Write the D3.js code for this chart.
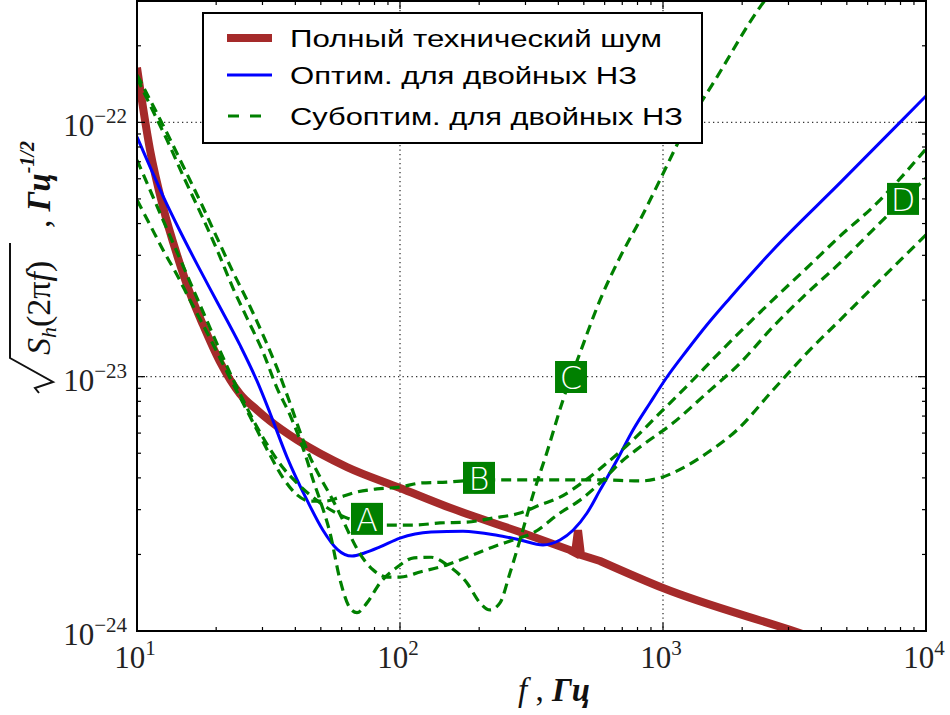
<!DOCTYPE html>
<html><head><meta charset="utf-8">
<script src="https://cdn.jsdelivr.net/npm/d3@7"></script>
<style>body{margin:0;background:#fff}</style>
</head><body><svg id="chart" width="950" height="715"></svg>
<script>
// ---- data ----
const techFreq = [10, 11.21, 12.56, 14.20, 15.90, 17.82, 20.69, 24.64, 28.59, 32.04, 40.59, 62.88, 100, 154.9, 285.9, 443.1, 462.9, 475.2, 487.8, 576.1, 1000, 3041, 10000];
const techVal  = [1.64e-22, 7.79e-23, 4.65e-23, 3.01e-23, 2.13e-23, 1.60e-23, 1.142e-23, 8.55e-24, 7.40e-24, 6.70e-24, 5.64e-24, 4.41e-24, 3.65e-24, 3.05e-24, 2.45e-24, 2.08e-24, 2.03e-24, 2.49e-24, 1.99e-24, 1.885e-24, 1.476e-24, 1.01e-24, 6.71e-25];

const optFreq = [10, 11.21, 12.56, 14.57, 16.91, 20.15, 24.64, 28.59, 32.04, 37.18, 44.30, 50.95, 57.61, 65.70, 73.6, 83.93, 100, 131.2, 173.6, 233.7, 285.9, 349.8, 405.9, 454.9, 514.2, 576.1, 668.5, 769.1, 892.6, 1035.6, 1233.9, 1470.2, 1797.6, 2619.9, 4709.8, 7962, 10000];
const optVal  = [8.76e-23, 6.68e-23, 5.13e-23, 3.74e-23, 2.77e-23, 1.97e-23, 1.33e-23, 9.62e-24, 7.20e-24, 4.83e-24, 3.27e-24, 2.49e-24, 2.10e-24, 1.97e-24, 2.03e-24, 2.14e-24, 2.32e-24, 2.45e-24, 2.47e-24, 2.38e-24, 2.28e-24, 2.18e-24, 2.28e-24, 2.49e-24, 2.91e-24, 3.58e-24, 4.70e-24, 6.17e-24, 7.88e-24, 9.97e-24, 1.27e-23, 1.60e-23, 2.04e-23, 3.15e-23, 5.78e-23, 1.0e-22, 1.27e-22];

const subAFreq = [10, 11.21, 12.56, 14.20, 15.90, 17.82, 20.15, 22.58, 25.30, 28.59, 32.04, 35.91, 40.59, 45.48, 50.95, 59.14, 70.45, 86.17, 113.0, 141.9, 179.8, 225.7, 285.9, 340.7, 405.9, 496.5, 612.4, 769.1, 974.1, 1266.8, 1647.4, 2142.4, 2785.5, 3622.5, 4709.8, 6287, 10000];
const subAVal  = [7.11e-23, 5.42e-23, 4.13e-23, 3.09e-23, 2.36e-23, 1.80e-23, 1.345e-23, 1.034e-23, 8.10e-24, 6.34e-24, 5.19e-24, 4.38e-24, 3.82e-24, 3.43e-24, 3.13e-24, 2.86e-24, 2.68e-24, 2.61e-24, 2.61e-24, 2.66e-24, 2.68e-24, 2.78e-24, 2.91e-24, 3.13e-24, 3.36e-24, 3.85e-24, 4.58e-24, 5.64e-24, 7.20e-24, 9.45e-24, 1.25e-23, 1.64e-23, 2.13e-23, 2.75e-23, 3.57e-23, 4.65e-23, 7.86e-23];

const subBFreq = [10, 11.21, 12.56, 14.20, 15.90, 17.82, 20.15, 22.58, 25.30, 28.59, 32.04, 35.91, 40.59, 45.48, 51.87, 59.14, 68.62, 81.75, 100, 120.2, 150.9, 201.5, 285.9, 405.9, 576.1, 817.8, 974.1, 1191.5, 1470.2, 1911.1, 2619.9, 3528.6, 4709.8, 6287, 10000];
const subBVal  = [4.95e-23, 3.95e-23, 3.15e-23, 2.51e-23, 2.00e-23, 1.60e-23, 1.25e-23, 9.88e-24, 7.88e-24, 6.17e-24, 4.92e-24, 4.00e-24, 3.43e-24, 3.24e-24, 3.24e-24, 3.36e-24, 3.52e-24, 3.62e-24, 3.68e-24, 3.82e-24, 3.85e-24, 3.93e-24, 3.93e-24, 3.93e-24, 3.93e-24, 3.89e-24, 4.00e-24, 4.38e-24, 5.01e-24, 6.17e-24, 8.86e-24, 1.24e-23, 1.67e-23, 2.25e-23, 3.61e-23];

const subCFreq = [10, 11.21, 13.0, 15.22, 17.66, 20.32, 23.17, 26.20, 30.13, 34.07, 38.16, 41.68, 44.30, 46.69, 49.65, 54.19, 59.14, 64.55, 68.62, 74.89, 83.93, 97.41, 113.0, 131.2, 150.9, 179.8, 201.5, 219.9, 240.0, 261.9, 285.9, 320.4, 362.3, 416.7, 483.6, 576.1, 686.3, 817.8, 974.1, 1191.5, 1604.7, 2338.1, 3318];
const subCVal  = [1.495e-22, 1.17e-22, 8.53e-23, 5.94e-23, 4.28e-23, 3.09e-23, 2.23e-23, 1.70e-23, 1.25e-23, 9.02e-24, 7.07e-24, 5.64e-24, 4.70e-24, 3.93e-24, 3.27e-24, 2.43e-24, 1.59e-24, 1.23e-24, 1.18e-24, 1.29e-24, 1.545e-24, 1.78e-24, 1.94e-24, 1.95e-24, 1.82e-24, 1.545e-24, 1.29e-24, 1.21e-24, 1.29e-24, 1.69e-24, 2.28e-24, 3.43e-24, 5.06e-24, 8.10e-24, 1.24e-23, 2.00e-23, 2.95e-23, 4.13e-23, 5.94e-23, 9.08e-23, 1.508e-22, 2.84e-22, 4.35e-22];

const subDFreq = [10, 11.21, 13.0, 15.22, 17.66, 20.32, 23.17, 26.20, 30.13, 34.07, 38.16, 42.78, 45.48, 49.65, 54.19, 59.14, 64.55, 70.45, 78.93, 89.25, 100, 120.2, 150.9, 179.8, 225.7, 269.0, 320.4, 405.9, 483.6, 576.1, 686.3, 817.8, 1091.5, 1470.2, 1962.8, 2619.9, 3528.6, 4709.8, 6287, 10000];
const subDVal  = [1.536e-22, 1.225e-22, 9.08e-23, 6.50e-23, 4.73e-23, 3.45e-23, 2.58e-23, 2.00e-23, 1.459e-23, 1.082e-23, 7.88e-24, 5.64e-24, 4.83e-24, 4.03e-24, 3.43e-24, 2.88e-24, 2.38e-24, 2.01e-24, 1.74e-24, 1.63e-24, 1.63e-24, 1.71e-24, 1.82e-24, 1.95e-24, 2.14e-24, 2.28e-24, 2.43e-24, 2.91e-24, 3.27e-24, 3.82e-24, 4.58e-24, 5.29e-24, 6.57e-24, 8.63e-24, 1.13e-23, 1.57e-23, 2.13e-23, 2.80e-23, 3.78e-23, 6.04e-23];

const tagNames = ["A", "B", "C", "D"];
const tagFreq  = [74.9, 199.7, 447, 8177];
const tagVal   = [2.76e-24, 4.00e-24, 9.97e-24, 5.00e-23];

const legendNames = ["Полный технический шум", "Оптим. для двойных НЗ", "Субоптим. для двойных НЗ"];
const xTickVals = [10, 100, 1000, 10000];
const xTickExp  = ["1", "2", "3", "4"];
const yTickVals = [1e-24, 1e-23, 1e-22];
const yTickExp  = ["\u221224", "\u221223", "\u221222"];

// ---- layout ----
const L = 137, R = 926, T = 1, B = 631;
const svg = d3.select("#chart");
svg.append("rect").attr("width", 950).attr("height", 715).attr("fill", "#fff");

const x = d3.scaleLog().domain([10, 1e4]).range([L, R]);
const y = d3.scaleLog().domain([1e-24, 3e-22]).range([B, T]);

svg.append("clipPath").attr("id", "clip").append("rect")
  .attr("x", L).attr("y", T).attr("width", R - L).attr("height", B - T);

const RED = "#a52a2a", BLUE = "#0000ff", GREEN = "#008000";

// grid
const grid = svg.append("g").attr("stroke", "#333").attr("stroke-width", 1.3).attr("stroke-dasharray", "1.3,3.2");
[100, 1000].forEach(v => grid.append("line").attr("x1", x(v)).attr("x2", x(v)).attr("y1", T).attr("y2", B));
[1e-23, 1e-22].forEach(v => grid.append("line").attr("x1", L).attr("x2", R).attr("y1", y(v)).attr("y2", y(v)));

const line = d3.line().x(d => x(d[0])).y(d => y(d[1])).curve(d3.curveMonotoneX);
const lineLin = d3.line().x(d => x(d[0])).y(d => y(d[1]));
const zip = (a, b) => a.map((v, i) => [v, b[i]]);
const plot = svg.append("g").attr("clip-path", "url(#clip)");

// technical noise: smooth everywhere except the narrow spike, which is drawn with straight segments
const techPts = zip(techFreq, techVal);
const s0 = techFreq.indexOf(443.1), s1 = techFreq.indexOf(576.1);
const techD = line(techPts.slice(0, s0 + 1)) +
  lineLin(techPts.slice(s0, s1 + 1)).replace(/^M/, "L") +
  line(techPts.slice(s1)).replace(/^M/, "L");
plot.append("path").attr("d", techD).attr("fill", "none")
  .attr("stroke", RED).attr("stroke-width", 8).attr("stroke-linejoin", "miter").attr("stroke-miterlimit", 4);
plot.append("path").attr("d", line(zip(optFreq, optVal))).attr("fill", "none")
  .attr("stroke", BLUE).attr("stroke-width", 3);
[[subAFreq, subAVal], [subBFreq, subBVal], [subCFreq, subCVal], [subDFreq, subDVal]].forEach(([f, v]) => {
  plot.append("path").attr("d", line(zip(f, v))).attr("fill", "none")
    .attr("stroke", GREEN).attr("stroke-width", 3.2).attr("stroke-dasharray", "10,6");
});

// tags
tagNames.forEach((t, i) => {
  const cx = x(tagFreq[i]), cy = y(tagVal[i]);
  svg.append("rect").attr("x", cx - 16).attr("y", cy - 16).attr("width", 32).attr("height", 32).attr("fill", GREEN);
  svg.append("text").attr("x", cx).attr("y", cy + 12).attr("text-anchor", "middle")
    .attr("font-family", "DejaVu Sans").attr("font-size", 32).attr("font-weight", 300)
    .attr("fill", "#fff").text(t);
});

// frame
svg.append("rect").attr("x", L).attr("y", T).attr("width", R - L).attr("height", B - T)
  .attr("fill", "none").attr("stroke", "#000").attr("stroke-width", 2);

// ticks
const tk = svg.append("g").attr("stroke", "#000").attr("stroke-width", 1.2);
const xMinor = [], yMinor = [];
for (let e = 1; e < 4; e++) for (let m = 2; m <= 9; m++) xMinor.push(m * Math.pow(10, e));
for (let e = -24; e <= -22; e++) for (let m = 2; m <= 9; m++) { const v = m * Math.pow(10, e); if (v <= 3e-22) yMinor.push(v); }
xTickVals.forEach(v => { tk.append("line").attr("x1", x(v)).attr("x2", x(v)).attr("y1", B).attr("y2", B - 8);
  tk.append("line").attr("x1", x(v)).attr("x2", x(v)).attr("y1", T).attr("y2", T + 8); });
xMinor.forEach(v => { tk.append("line").attr("x1", x(v)).attr("x2", x(v)).attr("y1", B).attr("y2", B - 4);
  tk.append("line").attr("x1", x(v)).attr("x2", x(v)).attr("y1", T).attr("y2", T + 4); });
yTickVals.forEach(v => { tk.append("line").attr("x1", L).attr("x2", L + 8).attr("y1", y(v)).attr("y2", y(v));
  tk.append("line").attr("x1", R).attr("x2", R - 8).attr("y1", y(v)).attr("y2", y(v)); });
yMinor.forEach(v => { tk.append("line").attr("x1", L).attr("x2", L + 4).attr("y1", y(v)).attr("y2", y(v));
  tk.append("line").attr("x1", R).attr("x2", R - 4).attr("y1", y(v)).attr("y2", y(v)); });

// tick labels
const serif = "Liberation Serif, DejaVu Serif, serif";
xTickVals.forEach((v, i) => {
  const t = svg.append("text").attr("x", x(v) - 2).attr("y", 668).attr("text-anchor", "middle")
    .attr("font-family", serif).attr("font-size", 31).attr("fill", "#222");
  t.append("tspan").text("10");
  t.append("tspan").attr("dy", -13).attr("font-size", 21).text(xTickExp[i]);
});
yTickVals.forEach((v, i) => {
  const t = svg.append("text").attr("x", 127).attr("y", y(v) + 14).attr("text-anchor", "end")
    .attr("font-family", serif).attr("font-size", 31).attr("fill", "#222");
  t.append("tspan").text("10");
  t.append("tspan").attr("dy", -13).attr("font-size", 21).text(yTickExp[i]);
});

// x label
const xl = svg.append("text").attr("x", 518).attr("y", 701).attr("font-family", serif).attr("font-size", 33).attr("fill", "#111");
xl.append("tspan").attr("font-style", "italic").text("f");
xl.append("tspan").text(" , ");
xl.append("tspan").attr("font-style", "italic").attr("font-weight", "bold").text("Гц");

// y label (rotated)
const yl = svg.append("g").attr("transform", "translate(50,393) rotate(-90)");
yl.append("path").attr("d", "M0,-11 L5,-15 L11,3 L35,-40 L150,-40")
  .attr("fill", "none").attr("stroke", "#111").attr("stroke-width", 2);
const yt = yl.append("text").attr("x", 38).attr("y", 0).attr("font-family", serif).attr("font-size", 34).attr("fill", "#111");
yt.append("tspan").attr("font-style", "italic").text("S");
yt.append("tspan").attr("font-style", "italic").attr("font-size", 22).attr("dy", 6).text("h");
yt.append("tspan").attr("dy", -6).text("(2");
yt.append("tspan").text("π");
yt.append("tspan").attr("font-style", "italic").text("f");
yt.append("tspan").text(")");
const yu = yl.append("text").attr("x", 165).attr("y", 0).attr("font-family", serif).attr("font-size", 33).attr("fill", "#111");
yu.append("tspan").text(", ");
yu.append("tspan").attr("font-style", "italic").attr("font-weight", "bold").text("Гц");
yu.append("tspan").attr("dy", -16).attr("font-size", 20).attr("font-style", "italic").attr("font-weight", "bold").text("-1/2");

// legend
const lg = svg.append("g");
lg.append("rect").attr("x", 203).attr("y", 13).attr("width", 499).attr("height", 130)
  .attr("fill", "#fff").attr("stroke", "#000").attr("stroke-width", 2);
const legY = [38, 75, 116];
const legW = [372, 347, 393];
lg.append("line").attr("x1", 227).attr("x2", 272).attr("y1", legY[0]).attr("y2", legY[0]).attr("stroke", RED).attr("stroke-width", 8);
lg.append("line").attr("x1", 227).attr("x2", 272).attr("y1", legY[1]).attr("y2", legY[1]).attr("stroke", BLUE).attr("stroke-width", 3);
lg.append("line").attr("x1", 228).attr("x2", 262).attr("y1", legY[2]).attr("y2", legY[2]).attr("stroke", GREEN).attr("stroke-width", 3.2).attr("stroke-dasharray", "11,11");
legendNames.forEach((n, i) => {
  lg.append("text").attr("x", 290).attr("y", legY[i] + 9).attr("font-family", "Liberation Sans, Arial, sans-serif")
    .attr("font-size", 23).attr("textLength", legW[i]).attr("lengthAdjust", "spacingAndGlyphs").attr("fill", "#000").text(n);
});
</script></body></html>
